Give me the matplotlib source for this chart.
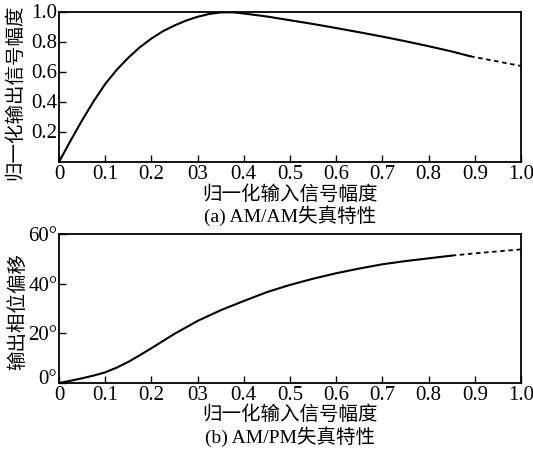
import matplotlib
matplotlib.use('agg')
from matplotlib import pyplot as plt
from matplotlib import transforms

plt.rcParams['font.family'] = ['Liberation Serif', 'Noto Sans CJK SC']
plt.rcParams['axes.unicode_minus'] = False

# AM/AM 曲线 (读图取值)
am_x = [0, 0.025, 0.05, 0.075, 0.1, 0.125, 0.15, 0.175, 0.2, 0.225, 0.25, 0.275,
        0.3, 0.325, 0.35, 0.375, 0.4, 0.45, 0.5, 0.55, 0.6, 0.65, 0.7, 0.75,
        0.8, 0.85, 0.89]
am_y = [0, 0.142, 0.278, 0.405, 0.52, 0.615, 0.695, 0.765, 0.823, 0.872, 0.91, 0.943,
        0.968, 0.987, 0.997, 0.998, 0.99, 0.97, 0.945, 0.92, 0.893, 0.865, 0.836, 0.805,
        0.772, 0.737, 0.705]
am_dash_x = [0.89, 0.95, 1.0]
am_dash_y = [0.705, 0.67, 0.64]

# AM/PM 曲线 (度)
pm_x = [0, 0.025, 0.05, 0.075, 0.1, 0.125, 0.15, 0.175, 0.2, 0.25, 0.3, 0.35,
        0.39, 0.45, 0.5, 0.55, 0.6, 0.65, 0.7, 0.75, 0.8, 0.85]
pm_y = [0, 0.9, 1.9, 3.0, 4.3, 6.2, 8.5, 11.2, 14.0, 19.8, 25.0, 29.3,
        32.3, 36.6, 39.5, 42.0, 44.2, 46.1, 47.8, 49.1, 50.2, 51.3]
pm_dash_x = [0.85, 0.9, 0.95, 1.0]
pm_dash_y = [51.3, 52.2, 53.0, 53.8]

x_ticks = [0, 0.1, 0.2, 0.3, 0.4, 0.5, 0.6, 0.7, 0.8, 0.9, 1.0]
x_labels = ['0', '0.1', '0.2', '03', '0.4', '0.5', '0.6', '0.7', '0.8', '0.9', '1.0']
am_ticks = [0.2, 0.4, 0.6, 0.8, 1.0]
am_labels = ['0.2', '0.4', '0.6', '0.8', '1.0']
pm_ticks = [0, 20, 40, 60]
pm_labels = ['0°', '20°', '40°', '60°']

W, H = 533, 453
fig = plt.figure(figsize=(W / 100, H / 100), dpi=100)
ax1 = fig.add_axes([59 / W, 1 - 162 / H, 462 / W, 150 / H])
ax2 = fig.add_axes([59 / W, 1 - 383 / H, 462 / W, 149 / H])


def _style(ax):
    for s in ax.spines.values():
        s.set_linewidth(1.3)
    ax.tick_params(direction='in', length=5, width=1, labelsize=15,
                   top=False, right=False)
    ax.tick_params(axis='y', pad=1)
    ax.tick_params(axis='x', pad=2)
    ax.set_xlim(0, 1.0)
    ax.set_xticks(x_ticks)
    ax.set_xticklabels(x_labels)


def _shift(label, dx, dy):
    label.set_transform(label.get_transform() +
                        transforms.ScaledTranslation(dx / 100, dy / 100, fig.dpi_scale_trans))


ax1.plot(am_x, am_y, color='black', lw=1.5)
ax1.plot(am_dash_x, am_dash_y, color='black', lw=1.3, ls=(0, (2.5, 2)))
_style(ax1)
ax1.set_ylim(0, 1.0)
ax1.set_yticks(am_ticks)
ax1.set_yticklabels(am_labels)
for lb in ax1.get_yticklabels():
    _shift(lb, 0, 1.5)
fig.text(15 / W, 1 - 92 / H, '归一化输出信号幅度', fontsize=14, rotation=90,
         ha='center', va='center')
fig.text(290 / W, 1 - 195 / H, '归一化输入信号幅度', fontsize=14,
         ha='center', va='center')
fig.text(290 / W, 1 - 216 / H, '(a) AM/AM失真特性', fontsize=14,
         ha='center', va='center')

ax2.plot(pm_x, pm_y, color='black', lw=1.5)
ax2.plot(pm_dash_x, pm_dash_y, color='black', lw=1.3, ls=(0, (2.5, 2)))
_style(ax2)
ax2.set_ylim(0, 60)
ax2.set_yticks(pm_ticks)
ax2.set_yticklabels(pm_labels)
_shift(ax2.get_yticklabels()[0], -1, 6)
fig.text(18 / W, 1 - 312 / H, '输出相位偏移', fontsize=14, rotation=90,
         ha='center', va='center')
fig.text(290 / W, 1 - 415 / H, '归一化输入信号幅度', fontsize=14,
         ha='center', va='center')
fig.text(290 / W, 1 - 437 / H, '(b) AM/PM失真特性', fontsize=14,
         ha='center', va='center')

fig.savefig('out.png', dpi=100)
